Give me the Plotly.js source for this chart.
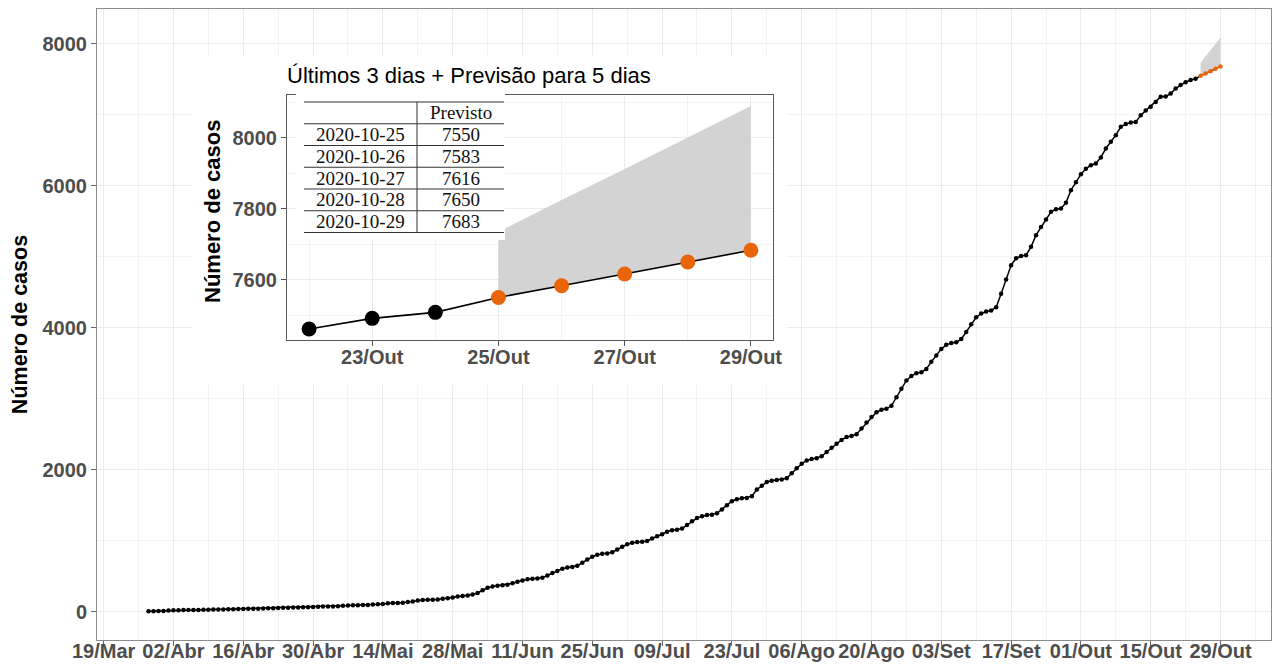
<!DOCTYPE html>
<html><head><meta charset="utf-8">
<script src="https://cdn.plot.ly/plotly-3.0.1.min.js"></script>
<style>
html,body{margin:0;padding:0;background:#fff;}
#main{position:absolute;left:0;top:0;width:1274px;height:668px;}
#inset{position:absolute;left:193px;top:57px;width:594px;height:328px;}
</style>
</head><body>
<div id="main"></div><div id="inset"></div>
<script>
// ---------------- DATA ----------------
const startDate = '2020-03-28';
const casos = [
  4, 5, 7, 10, 14, 18,
  20, 21, 21, 22, 24, 26, 28,
  30, 31, 31, 32, 34, 36, 38,
  41, 42, 42, 43, 46, 49, 52,
  55, 56, 57, 58, 61, 63, 66,
  70, 71, 72, 73, 77, 81, 85,
  90, 91, 92, 94, 99, 103, 108,
  118, 120, 121, 124, 134, 144, 155,
  164, 166, 167, 170, 180, 190, 200,
  212, 220, 228, 240, 262, 300, 336,
  355, 365, 370, 380, 400, 420, 440,
  455, 462, 465, 478, 510, 545, 574,
  605, 622, 630, 645, 690, 735, 773,
  800, 815, 820, 835, 875, 915, 948,
  970, 982, 986, 995, 1030, 1062, 1090,
  1125, 1145, 1152, 1170, 1222, 1272, 1318,
  1345, 1360, 1365, 1385, 1440, 1500, 1555,
  1585, 1598, 1602, 1625, 1720, 1775, 1826,
  1845, 1855, 1860, 1880, 1950, 2020, 2084,
  2130, 2150, 2160, 2188, 2250, 2310, 2366,
  2420, 2460, 2474, 2500, 2580, 2665, 2741,
  2810, 2845, 2858, 2900, 3020, 3140, 3257,
  3320, 3360, 3374, 3420, 3520, 3610, 3702,
  3760, 3785, 3796, 3840, 3940, 4050, 4148,
  4200, 4230, 4242, 4290, 4480, 4680, 4880,
  4980, 5010, 5023, 5140, 5305, 5420, 5526,
  5634, 5670, 5681, 5760, 5939, 6050, 6164,
  6240, 6291, 6315, 6400, 6526, 6620, 6714,
  6831, 6870, 6892, 6901, 6995, 7060, 7113,
  7180, 7254, 7258, 7300, 7371, 7420, 7461,
  7491, 7508
];
const forecastDates = ['2020-10-25','2020-10-26','2020-10-27','2020-10-28','2020-10-29'];
const previsto = [7550, 7583, 7616, 7650, 7683];
const superior = [7735, 7825, 7912, 8000, 8090];

const xTickVals = ['2020-03-19','2020-04-02','2020-04-16','2020-04-30','2020-05-14','2020-05-28','2020-06-11','2020-06-25','2020-07-09','2020-07-23','2020-08-06','2020-08-20','2020-09-03','2020-09-17','2020-10-01','2020-10-15','2020-10-29'];
const xTickText = ['19/Mar','02/Abr','16/Abr','30/Abr','14/Mai','28/Mai','11/Jun','25/Jun','09/Jul','23/Jul','06/Ago','20/Ago','03/Set','17/Set','01/Out','15/Out','29/Out'];
const xMinorVals = ['2020-03-26','2020-04-09','2020-04-23','2020-05-07','2020-05-21','2020-06-04','2020-06-18','2020-07-02','2020-07-16','2020-07-30','2020-08-13','2020-08-27','2020-09-10','2020-09-24','2020-10-08','2020-10-22','2020-11-05'];
const yTickVals = [0, 2000, 4000, 6000, 8000];
const yMinorVals = [1000, 3000, 5000, 7000];

const insetTickVals = ['2020-10-23','2020-10-25','2020-10-27','2020-10-29'];
const insetTickText = ['23/Out','25/Out','27/Out','29/Out'];
const insetMinorVals = ['2020-10-22','2020-10-24','2020-10-26','2020-10-28'];
const insetYTicks = [7600, 7800, 8000];
const insetYMinor = [7500, 7700, 7900, 8100];

const insetTitle = 'Últimos 3 dias + Previsão para 5 dias';
const yTitle = 'Número de casos';
const tableHeader = 'Previsto';

// ---------------- BUILD ----------------
function addDays(s, n) {
  const d = new Date(s + 'T00:00:00Z');
  d.setUTCDate(d.getUTCDate() + n);
  return d.toISOString().slice(0, 10);
}
const datas = casos.map((_, i) => addDays(startDate, i));
const ORANGE = '#E8650C';
const BAND = '#D3D3D3';
const TICKFONT = {family: 'Liberation Sans, Arial, sans-serif', size: 20, color: '#4D4D4D', weight: 'bold'};

const allX = datas.concat(forecastDates);
const allY = casos.concat(previsto);
const bandX = forecastDates.concat(forecastDates.slice().reverse());
const bandY = superior.concat(previsto.slice().reverse());

// -------- main chart --------
const mainTraces = [
  {x: bandX, y: bandY, type: 'scatter', mode: 'lines', fill: 'toself', fillcolor: BAND, line: {width: 0}, hoverinfo: 'skip'},
  {x: allX, y: allY, type: 'scatter', mode: 'lines', line: {color: '#000', width: 1.5}},
  {x: datas, y: casos, type: 'scatter', mode: 'markers', marker: {color: '#000', size: 4.5}},
  {x: forecastDates, y: previsto, type: 'scatter', mode: 'lines+markers', line: {color: ORANGE, width: 1.5}, marker: {color: ORANGE, size: 4.5}}
];
const mainLayout = {
  width: 1274, height: 668,
  margin: {l: 97, r: 3, t: 9, b: 28},
  paper_bgcolor: '#fff', plot_bgcolor: '#fff', showlegend: false,
  font: {family: 'Liberation Sans, Arial, sans-serif'},
  xaxis: {
    type: 'date', range: ['2020-03-17 16:00', '2020-11-08 03:00'],
    tickmode: 'array', tickvals: xTickVals, ticktext: xTickText,
    showgrid: true, gridcolor: '#EBEBEB', gridwidth: 1,
    minor: {tickmode: 'array', tickvals: xMinorVals, showgrid: true, gridcolor: '#F3F3F3', gridwidth: 1, ticks: ''},
    showline: true, mirror: true, linecolor: '#8C8C8C', linewidth: 1,
    ticks: 'outside', ticklen: 5, tickcolor: '#666', tickwidth: 1,
    tickfont: TICKFONT, zeroline: false, ticklabelstandoff: -12
  },
  yaxis: {
    range: [-400, 8492],
    tickmode: 'array', tickvals: yTickVals, ticktext: yTickVals.map(String),
    showgrid: true, gridcolor: '#EBEBEB', gridwidth: 1,
    minor: {tickmode: 'array', tickvals: yMinorVals, showgrid: true, gridcolor: '#F3F3F3', gridwidth: 1, ticks: ''},
    showline: true, mirror: true, linecolor: '#8C8C8C', linewidth: 1,
    ticks: 'outside', ticklen: 5, tickcolor: '#666', tickwidth: 1,
    tickfont: TICKFONT, zeroline: false
  },
  annotations: [{
    text: yTitle, xref: 'paper', yref: 'paper', x: 0, y: 0.499, xshift: -77,
    xanchor: 'center', yanchor: 'middle', textangle: -90, showarrow: false,
    font: {family: 'Liberation Sans, Arial, sans-serif', size: 21.5, color: '#000', weight: 'bold'}
  }]
};
Plotly.newPlot('main', mainTraces, mainLayout, {staticPlot: true, displayModeBar: false});

// -------- inset chart --------
const insetX = datas.slice(-3).concat(forecastDates);
const insetY = casos.slice(-3).concat(previsto);
const insetTraces = [
  {x: bandX, y: bandY, type: 'scatter', mode: 'lines', fill: 'toself', fillcolor: BAND, line: {width: 0}},
  {x: insetX, y: insetY, type: 'scatter', mode: 'lines', line: {color: '#000', width: 1.6}},
  {x: datas.slice(-3), y: casos.slice(-3), type: 'scatter', mode: 'markers', marker: {color: '#000', size: 15}},
  {x: forecastDates, y: previsto, type: 'scatter', mode: 'markers', marker: {color: ORANGE, size: 15}}
];

// inset pixel frame (within the inset div): plot area left 94, right 580, top 38, bottom 283
const IL = 94, IR = 580, IT = 38, IB = 283;
const px = v => (v - IL) / (IR - IL);
const py = v => (IB - v) / (IB - IT);

// table layout (pixels inside inset div)
const tX0 = 111, tX1 = 311, tXdiv = 224, tY0 = 45, rowH = 21.75;
const nRows = forecastDates.length + 1;
const shapes = [
  {type: 'rect', xref: 'paper', yref: 'paper', x0: px(103), x1: px(312), y0: py(36), y1: py(183), fillcolor: '#fff', line: {width: 0}, layer: 'above'}
];
for (let i = 0; i <= nRows; i++) {
  const yy = tY0 + i * rowH;
  shapes.push({type: 'line', xref: 'paper', yref: 'paper', x0: px(tX0), x1: px(tX1), y0: py(yy), y1: py(yy), line: {color: '#333', width: 1}, layer: 'above'});
}
shapes.push({type: 'line', xref: 'paper', yref: 'paper', x0: px(tXdiv), x1: px(tXdiv), y0: py(tY0), y1: py(tY0 + nRows * rowH), line: {color: '#333', width: 1}, layer: 'above'});

const TABFONT = {family: 'Liberation Serif, Times New Roman, serif', size: 19, color: '#111'};
const annotations = [{
  text: tableHeader, xref: 'paper', yref: 'paper', x: px((tXdiv + tX1) / 2), y: py(tY0 + rowH / 2),
  xanchor: 'center', yanchor: 'middle', showarrow: false, font: TABFONT
}];
forecastDates.forEach((d, i) => {
  const yc = py(tY0 + (i + 1.5) * rowH);
  annotations.push({text: d, xref: 'paper', yref: 'paper', x: px((tX0 + tXdiv) / 2), y: yc, xanchor: 'center', yanchor: 'middle', showarrow: false, font: TABFONT});
  annotations.push({text: String(previsto[i]), xref: 'paper', yref: 'paper', x: px((tXdiv + tX1) / 2), y: yc, xanchor: 'center', yanchor: 'middle', showarrow: false, font: TABFONT});
});
annotations.push({
  text: yTitle, xref: 'paper', yref: 'paper', x: 0, y: py(155), xshift: -75,
  xanchor: 'center', yanchor: 'middle', textangle: -90, showarrow: false,
  font: {family: 'Liberation Sans, Arial, sans-serif', size: 22, color: '#000', weight: 'bold'}
});

const insetLayout = {
  width: 594, height: 328,
  margin: {l: IL, r: 594 - IR, t: IT, b: 328 - IB},
  paper_bgcolor: '#fff', plot_bgcolor: '#fff', showlegend: false,
  font: {family: 'Liberation Sans, Arial, sans-serif'},
  title: {text: insetTitle, x: 0, xref: 'paper', xanchor: 'left', y: 1 - 18 / 328, yref: 'container', yanchor: 'middle',
          font: {family: 'Liberation Sans, Arial, sans-serif', size: 22, color: '#000'}},
  xaxis: {
    type: 'date', range: ['2020-10-21 15:36', '2020-10-29 08:24'],
    tickmode: 'array', tickvals: insetTickVals, ticktext: insetTickText,
    showgrid: true, gridcolor: '#EBEBEB', gridwidth: 1,
    minor: {tickmode: 'array', tickvals: insetMinorVals, showgrid: true, gridcolor: '#F3F3F3', gridwidth: 1, ticks: ''},
    showline: true, mirror: true, linecolor: '#595959', linewidth: 1,
    ticks: 'outside', ticklen: 5, tickcolor: '#555', tickwidth: 1,
    tickfont: TICKFONT, zeroline: false, ticklabelstandoff: -6
  },
  yaxis: {
    range: [7430, 8121],
    tickmode: 'array', tickvals: insetYTicks, ticktext: insetYTicks.map(String),
    showgrid: true, gridcolor: '#EBEBEB', gridwidth: 1,
    minor: {tickmode: 'array', tickvals: insetYMinor, showgrid: true, gridcolor: '#F3F3F3', gridwidth: 1, ticks: ''},
    showline: true, mirror: true, linecolor: '#595959', linewidth: 1,
    ticks: 'outside', ticklen: 5, tickcolor: '#555', tickwidth: 1,
    tickfont: TICKFONT, zeroline: false
  },
  shapes: shapes,
  annotations: annotations
};
Plotly.newPlot('inset', insetTraces, insetLayout, {staticPlot: true, displayModeBar: false});
</script>
</body></html>
